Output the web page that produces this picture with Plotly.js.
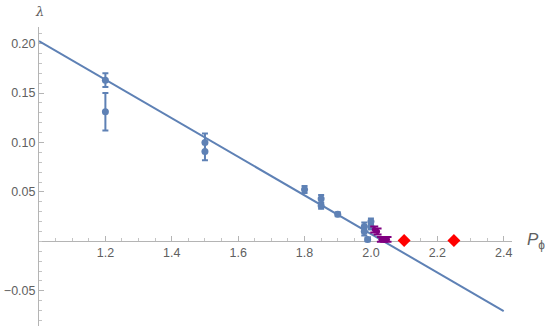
<!DOCTYPE html>
<html>
<head>
<meta charset="utf-8">
<script src="https://cdn.plot.ly/plotly-3.0.1.min.js"></script>
<style>html,body{margin:0;padding:0;background:#fff;}#chart{width:545px;height:328px;}</style>
</head>
<body>
<div id="chart"></div>
<script>
// Blue series (with vertical error bars)
var blueX   = [1.2, 1.2, 1.5, 1.5, 1.8, 1.85, 1.85, 1.9, 1.98, 1.98, 2.0, 2.0, 1.99];
var blueY   = [0.163, 0.131, 0.100, 0.091, 0.0525, 0.043, 0.036, 0.0275, 0.015, 0.010, 0.020, 0.015, 0.002];
var blueErr = [0.007, 0.019, 0.009, 0.009, 0.0035, 0.004, 0.003, 0.002, 0.004, 0.004, 0.003, 0.003, 0.002];
// Purple series
var purpleX   = [2.01, 2.02, 2.03, 2.04, 2.05];
var purpleY   = [0.012, 0.010, 0.002, 0.002, 0.002];
var purpleErr = [0.003, 0.003, 0.0025, 0.0025, 0.0025];
// Red series
var redX = [2.1, 2.25];
var redY = [0.0008, 0.0008];
// Fit line end points
var fitX = [1.0, 2.4];
var fitY = [0.2025, -0.0705];

var blue = '#5E81B5';
var xr = [1.0, 2.425], yr = [-0.0856, 0.2168];

var traces = [
  {x: fitX, y: fitY, mode: 'lines', line: {color: blue, width: 2}, hoverinfo: 'skip'},
  {x: blueX, y: blueY, mode: 'markers', marker: {color: blue, size: 7, line: {width: 0}},
   error_y: {type: 'data', array: blueErr, visible: true, color: blue, thickness: 2, width: 3}},
  {x: purpleX, y: purpleY, mode: 'markers', marker: {color: '#800080', size: 5, line: {width: 0}},
   error_y: {type: 'data', array: purpleErr, visible: true, color: '#800080', thickness: 2, width: 4}},
  {x: redX, y: redY, mode: 'markers', marker: {color: '#FF0000', size: 10, symbol: 'diamond', line: {width: 0}}}
];

var tickFont = {family: 'Liberation Sans, Arial, sans-serif', size: 12.5, color: '#606060'};
var layout = {
  width: 545, height: 328,
  margin: {l: 38.6, r: 33.3, t: 26.7, b: 2},
  paper_bgcolor: '#fff', plot_bgcolor: '#fff',
  showlegend: false,
  xaxis: {
    range: xr, anchor: 'free', position: (0 - yr[0]) / (yr[1] - yr[0]), layer: 'below traces',
    showgrid: false, zeroline: false, showline: true, linecolor: '#b4b4b4', linewidth: 1,
    tickvals: [1.2, 1.4, 1.6, 1.8, 2.0, 2.2, 2.4], ticktext: ['1.2','1.4','1.6','1.8','2.0','2.2','2.4'],
    ticks: 'inside', ticklen: 5, tickcolor: '#b4b4b4', tickwidth: 1,
    minor: {dtick: 0.05, tick0: 1.0, ticks: 'inside', ticklen: 3, tickcolor: '#c4c4c4', tickwidth: 1, showgrid: false},
    tickfont: tickFont
  },
  yaxis: {
    range: yr, layer: 'below traces', showgrid: false, zeroline: false, showline: true, linecolor: '#b4b4b4', linewidth: 1,
    tickvals: [-0.05, 0.05, 0.10, 0.15, 0.20], ticktext: ['\u22120.05','0.05','0.10','0.15','0.20'],
    ticks: 'inside', ticklen: 5, tickcolor: '#b4b4b4', tickwidth: 1,
    minor: {dtick: 0.01, tick0: 0, ticks: 'inside', ticklen: 3, tickcolor: '#c4c4c4', tickwidth: 1, showgrid: false},
    tickfont: tickFont
  },
  annotations: [
    {xref: 'paper', yref: 'paper', x: 0, y: 1, xshift: 0, yshift: 16, text: '<i>\u03bb</i>', showarrow: false,
     font: {family: 'DejaVu Serif, serif', size: 13, color: '#606060'}, xanchor: 'center', yanchor: 'middle'},
    {xref: 'paper', yref: 'y', x: 1, y: 0, xshift: 13, yshift: 0, text: '<i>P</i><sub>\u03d5</sub>', showarrow: false,
     font: {family: 'Liberation Sans, Arial, sans-serif', size: 17, color: '#606060'}, xanchor: 'left', yanchor: 'middle'}
  ]
};
Plotly.newPlot('chart', traces, layout, {displayModeBar: false, staticPlot: true});
</script>
</body>
</html>
